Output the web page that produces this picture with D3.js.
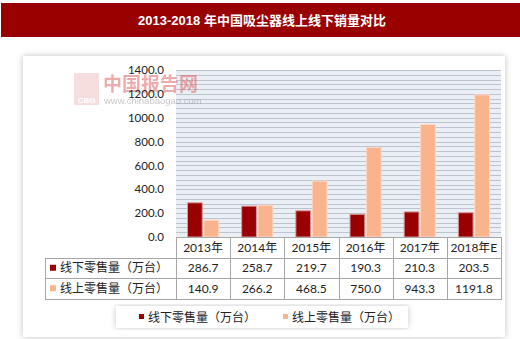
<!DOCTYPE html>
<html><head><meta charset="utf-8">
<script src="https://cdn.jsdelivr.net/npm/d3@7"></script>
<style>
html,body{margin:0;padding:0;background:#fff;}
svg{display:block;}
</style></head>
<body>
<script>
const categories = ["2013年","2014年","2015年","2016年","2017年","2018年E"];
const seriesNames = ["线下零售量（万台）","线上零售量（万台）"];
const offline = [286.7,258.7,219.7,190.3,210.3,203.5];
const online = [140.9,266.2,468.5,750.0,943.3,1191.8];
const yTicks = [0,200,400,600,800,1000,1200,1400];
const colors = ["#990000","#F9B38D"];
const strokes = ["#D99A9A","#FDD9C4"];
const title = "2013-2018 年中国吸尘器线上线下销量对比";

const W=520,H=339;
const svg=d3.select("body").append("svg").attr("width",W).attr("height",H);
const defs=svg.append("defs");
const f=defs.append("filter").attr("id","sh").attr("x","-5%").attr("y","-5%").attr("width","110%").attr("height","110%");
f.append("feDropShadow").attr("dx",0).attr("dy",0).attr("stdDeviation",3).attr("flood-color","#000").attr("flood-opacity",0.25);

// title bar
svg.append("rect").attr("x",1).attr("y",3).attr("width",519).attr("height",34).attr("fill","#990000");
svg.append("text").attr("x",262).attr("y",25).attr("text-anchor","middle")
  .attr("fill","#fff").attr("font-weight","bold").attr("font-size",13)
  .attr("font-family","'Liberation Sans','Noto Sans CJK SC',sans-serif").text(title);

// panel
svg.append("rect").attr("x",23).attr("y",56).attr("width",482).attr("height",281).attr("fill","#fff").attr("filter","url(#sh)");

const L=176,R=501,T=70,B=237;
const y=d3.scaleLinear().domain([0,1400]).range([B,T]);
const x=d3.scaleBand().domain(categories).range([L,R]);
const x1=d3.scaleBand().domain(seriesNames).range([11,x.bandwidth()-11]).paddingInner(0.04);

// plot bg
svg.append("rect").attr("x",L).attr("y",T).attr("width",R-L).attr("height",B-T).attr("fill","#E9EFF5");
const minor=d3.range(0,1401,40);
svg.append("g").selectAll("line").data(minor).join("line")
  .attr("x1",L).attr("x2",R).attr("y1",d=>Math.round(y(d))+0.5).attr("y2",d=>Math.round(y(d))+0.5)
  .attr("stroke","#BCC5CE").attr("stroke-width",1);

// watermark
const wm=svg.append("g").attr("opacity",0.55);
wm.append("rect").attr("x",74).attr("y",73).attr("width",25).attr("height",32).attr("fill","#F2C4C4");
wm.append("text").attr("x",86.5).attr("y",103).attr("text-anchor","middle").attr("font-size",8).attr("font-weight","bold").attr("fill","#fff").attr("font-family","'Liberation Sans',sans-serif").text("CBG");
wm.append("text").attr("x",103).attr("y",91).attr("font-size",19).attr("font-weight","bold").attr("fill","#E06868").attr("font-family","'Noto Sans CJK SC',sans-serif").text("中国报告网");
wm.append("text").attr("x",104).attr("y",104).attr("font-size",9.5).attr("fill","#999").attr("font-family","'Liberation Sans',sans-serif").text("www.chinabaogao.com");

// y axis labels
const ya=d3.axisLeft(y).tickValues(yTicks).tickSize(0).tickPadding(12).tickFormat(d=>d3.format(".1f")(d));
const yg=svg.append("g").attr("transform",`translate(${L},0)`).call(ya);
yg.select(".domain").remove();
yg.selectAll("text").attr("font-size",11.5).attr("fill","#222").attr("font-family","Lato,'Liberation Sans',sans-serif");

// bars
const data=[offline,online];
const g=svg.append("g");
seriesNames.forEach((s,si)=>{
  g.selectAll(null).data(categories).join("rect")
    .attr("x",(c)=>x(c)+x1(s)+0.5).attr("width",x1.bandwidth()-1)
    .attr("y",(c,i)=>y(data[si][i])).attr("height",(c,i)=>B-y(data[si][i]))
    .attr("fill",colors[si]).attr("stroke",strokes[si]).attr("stroke-width",1);
});

// table
const rowY=[237,257.5,278,298.5];
const tL=45;
const border="#A6A6A6";
const tg=svg.append("g").attr("stroke",border).attr("stroke-width",1).attr("fill","none");
// horizontal lines
tg.append("line").attr("x1",L).attr("x2",R).attr("y1",rowY[0]+0.5).attr("y2",rowY[0]+0.5);
[1,2,3].forEach(i=>tg.append("line").attr("x1",tL).attr("x2",R).attr("y1",Math.round(rowY[i])+0.5).attr("y2",Math.round(rowY[i])+0.5));
// vertical lines
tg.append("line").attr("x1",tL+0.5).attr("x2",tL+0.5).attr("y1",Math.round(rowY[1])).attr("y2",Math.round(rowY[3])+1);
categories.concat(["_end"]).forEach((c,i)=>{
  const xx=c==="_end"?R:x(c);
  tg.append("line").attr("x1",Math.round(xx)+0.5).attr("x2",Math.round(xx)+0.5).attr("y1",rowY[0]).attr("y2",Math.round(rowY[3])+1);
});
const ff="Lato,'Noto Sans CJK SC',sans-serif";
svg.append("g").selectAll("text").data(categories).join("text")
  .attr("x",c=>x(c)+x.bandwidth()/2).attr("y",(rowY[0]+rowY[1])/2+4.5).attr("text-anchor","middle")
  .attr("font-size",12).attr("fill","#222").attr("font-family",ff).text(c=>c);
seriesNames.forEach((s,si)=>{
  const cy=(rowY[si+1]+rowY[si+2])/2;
  svg.append("rect").attr("x",50).attr("y",cy-3).attr("width",6).attr("height",6).attr("fill",colors[si]);
  svg.append("text").attr("x",60).attr("y",cy+4.5).attr("font-size",12).attr("fill","#222")
    .attr("font-family","'Noto Sans CJK SC',sans-serif").text(s);
  svg.append("g").selectAll("text").data(categories).join("text")
    .attr("x",c=>x(c)+x.bandwidth()/2).attr("y",cy+4.5).attr("text-anchor","middle")
    .attr("font-size",12).attr("fill","#222").attr("font-family",ff)
    .text((c,i)=>d3.format(".1f")(data[si][i]));
});

// legend
svg.append("rect").attr("x",116).attr("y",306).attr("width",292).attr("height",22).attr("fill","#fff").attr("filter","url(#sh)").attr("opacity",0.9);
const lx=[139,283];
seriesNames.forEach((s,si)=>{
  svg.append("rect").attr("x",lx[si]).attr("y",314).attr("width",5).attr("height",5).attr("fill",colors[si]);
  svg.append("text").attr("x",lx[si]+9).attr("y",321.5).attr("font-size",12).attr("fill","#222")
    .attr("font-family","'Noto Sans CJK SC',sans-serif").text(s);
});
</script>
</body></html>
